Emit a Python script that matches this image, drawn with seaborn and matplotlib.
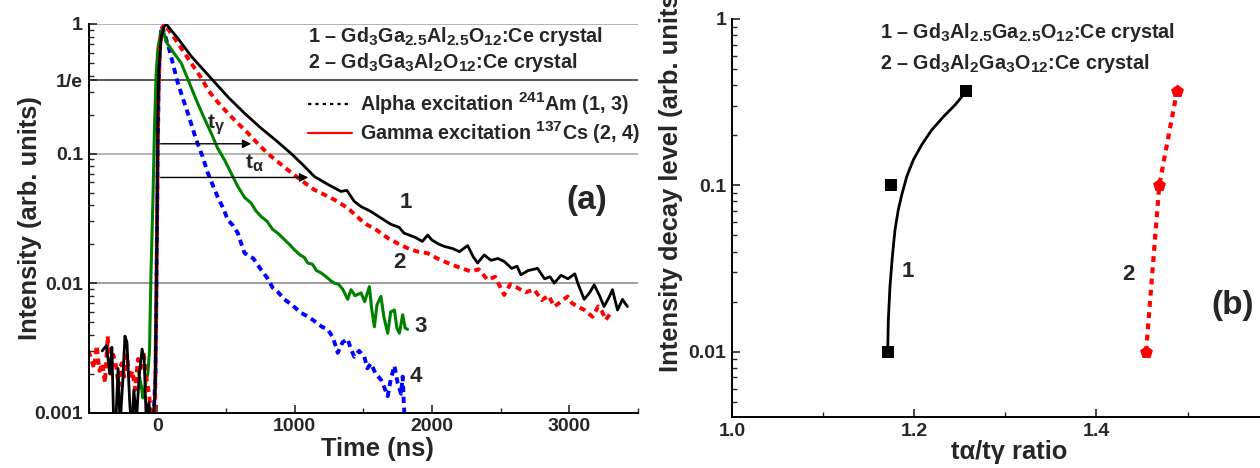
import numpy as np
import pandas as pd
import matplotlib
matplotlib.use("Agg")
import matplotlib.pyplot as plt
import matplotlib._mathtext as _mt
from matplotlib.lines import Line2D
from matplotlib.ticker import FixedLocator, NullFormatter, LogLocator
import seaborn as sns

# ---------------- data: panel (a) decay curves ----------------
t1 = [-400, -370, -345, -330, -315, -300, -285, -270, -250, -235, -220, -200, -185, -170, -150, -130, -110, -95, -80, -60, -45, -30,
      -15, -8, 0, 5, 12, 30, 50, 65,
      100, 150, 250, 405, 520, 635, 756, 870, 975, 1060, 1144, 1240, 1338, 1380, 1435, 1484, 1550, 1629, 1700, 1760, 1798,
      1880, 1930, 1969, 2000, 2050, 2090, 2150, 2200, 2260, 2300, 2332, 2380, 2430, 2480, 2526, 2580, 2620, 2647, 2700,
      2769, 2820, 2860, 2890, 2940, 2990, 3040, 3060, 3108, 3150, 3181, 3220, 3253, 3290, 3314, 3351, 3387, 3405, 3423]
i1 = [0.0030, 0.0033, 0.0020, 0.0032, 0.0007, 0.0009, 0.0022, 0.0008, 0.0018, 0.0039, 0.0035, 0.0012, 0.0007, 0.0015, 0.0009, 0.0020, 0.0031, 0.0026, 0.0009, 0.0012, 0.0008, 0.0008,
      0.0015, 0.006, 0.04, 0.2, 0.45, 0.8, 0.95, 1.0,
      0.9, 0.776, 0.56, 0.368, 0.27, 0.205, 0.157, 0.125, 0.1, 0.082, 0.0665, 0.058, 0.051, 0.052, 0.0427, 0.039, 0.036, 0.0318, 0.0285, 0.027, 0.0243,
      0.0225, 0.021, 0.0235, 0.0215, 0.020, 0.0192, 0.0185, 0.0175, 0.0195, 0.016, 0.0143, 0.0165, 0.0150, 0.0155, 0.0147, 0.0130, 0.0135, 0.0116, 0.0125,
      0.0130, 0.0108, 0.0112, 0.0100, 0.0115, 0.0108, 0.0118, 0.0101, 0.0075, 0.0085, 0.0097, 0.0080, 0.0066, 0.0078, 0.0089, 0.0062, 0.0075, 0.0070, 0.0066]

t2 = [-500, -480, -460, -440, -420, -400, -380, -360, -340, -320, -300, -280, -260, -240, -220, -200, -180, -160, -140, -120, -100, -80, -60, -45, -30,
      -15, -8, 0, 8, 20, 35, 50,
      102, 175, 247, 332, 369, 440, 514, 590, 660, 730, 805, 880, 950, 1050, 1144, 1220, 1290, 1387, 1450, 1508, 1590, 1678, 1760, 1847,
      1900, 1969, 2040, 2114, 2200, 2284, 2340, 2405, 2460, 2526, 2570, 2623, 2680, 2745, 2800, 2850, 2890, 2940, 2987, 3020, 3060,
      3110, 3169, 3210, 3240, 3265, 3302]
i2 = [0.0030, 0.0026, 0.0022, 0.0033, 0.0021, 0.0024, 0.0017, 0.0039, 0.0020, 0.0028, 0.0023, 0.0016, 0.0024, 0.0019, 0.0028, 0.0018, 0.0021, 0.0015, 0.0026, 0.0022, 0.0030, 0.0019, 0.0014, 0.0010, 0.0008,
      0.0012, 0.005, 0.04, 0.25, 0.65, 0.9, 1.0,
      0.85, 0.65, 0.50, 0.368, 0.31, 0.25, 0.205, 0.17, 0.144, 0.12, 0.10, 0.086, 0.0749, 0.062, 0.0525, 0.048, 0.044, 0.038, 0.033, 0.029, 0.026, 0.0223, 0.020, 0.0181,
      0.0175, 0.0170, 0.0155, 0.0143, 0.0132, 0.0123, 0.0128, 0.0106, 0.0112, 0.0081, 0.0098, 0.0092, 0.0085, 0.0089, 0.0074, 0.0080, 0.0066, 0.0072, 0.0079, 0.0070, 0.0066,
      0.0062, 0.0055, 0.0066, 0.0060, 0.0052, 0.0059]

t3 = [-140, -129, -115, -104, -92, -80, -68,
      -56, -45, -31, -20, -8, 5, 25, 41,
      65, 120, 175, 230, 284, 340, 393, 440, 490, 540, 587, 635, 684, 720, 756, 800, 840, 878, 920, 960, 999, 1040, 1070, 1096,
      1130, 1160, 1193, 1230, 1260, 1290, 1320, 1350, 1387, 1411, 1440, 1484, 1510, 1545, 1560, 1581, 1600, 1629, 1650, 1678,
      1700, 1727, 1745, 1763, 1787, 1805, 1823]
i3 = [0.0022, 0.0019, 0.0016, 0.0013, 0.0015, 0.0018, 0.0020,
      0.003, 0.012, 0.044, 0.15, 0.4, 0.65, 0.85, 0.93,
      0.73, 0.6, 0.50, 0.36, 0.26, 0.19, 0.144, 0.11, 0.0894, 0.07, 0.0557, 0.046, 0.0414, 0.036, 0.0327, 0.030, 0.026, 0.0243, 0.022, 0.020, 0.0181, 0.0165, 0.0158, 0.0143,
      0.0140, 0.0125, 0.0120, 0.0112, 0.0105, 0.0100, 0.0098, 0.0090, 0.0075, 0.0089, 0.0080, 0.0084, 0.0072, 0.0094, 0.0065, 0.0046, 0.0068, 0.0079, 0.0055, 0.0041,
      0.0060, 0.0062, 0.0045, 0.0041, 0.0057, 0.0045, 0.0044]

t4 = [-70, -55, -40, -25,
      -12, -4, 3, 10, 20, 32, 45,
      89, 150, 223, 284, 330, 369, 441, 480, 514, 550, 587, 635, 700, 756, 800, 841, 880, 926, 980, 1047, 1100, 1144, 1200, 1241,
      1280, 1314, 1350, 1387, 1410, 1435, 1470, 1508, 1530, 1556, 1590, 1629, 1650, 1678, 1700, 1727, 1750, 1775, 1787, 1795, 1800]
i4 = [0.0008, 0.0009, 0.0009, 0.0010,
      0.002, 0.012, 0.08, 0.3, 0.7, 0.97, 0.9,
      0.63, 0.35, 0.205, 0.128, 0.095, 0.0706, 0.046, 0.038, 0.0308, 0.028, 0.0243, 0.0171, 0.0155, 0.0127, 0.0110, 0.0092, 0.0085, 0.0075, 0.0068, 0.0059, 0.0055, 0.0051, 0.0046, 0.0044,
      0.0038, 0.0029, 0.0035, 0.0037, 0.0031, 0.0027, 0.0030, 0.0027, 0.0022, 0.0024, 0.0020, 0.0018, 0.0016, 0.00134, 0.0018, 0.0023, 0.0017, 0.0014, 0.0019, 0.0012, 0.00095]

ytick_vals_a = [0.001, 0.01, 0.1, 1 / np.e, 1.0]
ytick_labels_a = ["0.001", "0.01", "0.1", "1/e", "1"]
xtick_vals_a = [0, 1000, 2000, 3000]

# ---------------- data: panel (b) ----------------
ratio1 = [1.171, 1.175, 1.257]
level1 = [0.01, 0.1, 1 / np.e]
ratio2 = [1.4545, 1.469, 1.4885]
level2 = [0.01, 0.1, 1 / np.e]
fit1_ratio = [1.1709, 1.1716, 1.1734, 1.1760, 1.1789, 1.1825, 1.1863, 1.1918, 1.1990, 1.2082, 1.2192, 1.2320, 1.2448, 1.2539, 1.2565]
fit1_level = [0.0100, 0.0155, 0.0246, 0.0372, 0.0539, 0.0711, 0.0875, 0.1127, 0.142, 0.175, 0.215, 0.258, 0.304, 0.349, 0.362]
xtick_vals_b = [1.0, 1.2, 1.4]
xtick_labels_b = ["1.0", "1.2", "1.4"]

# ---------------- style ----------------
_mt.SHRINK_FACTOR = 0.78
sns.set_style("ticks")
plt.rcParams["font.family"] = ["Liberation Sans", "DejaVu Sans"]
plt.rcParams["font.weight"] = "bold"
plt.rcParams["axes.labelweight"] = "bold"
plt.rcParams["mathtext.fontset"] = "custom"
plt.rcParams["mathtext.rm"] = "Liberation Sans:bold"
plt.rcParams["mathtext.bf"] = "Liberation Sans:bold"
plt.rcParams["mathtext.it"] = "Liberation Sans:bold"
plt.rcParams["mathtext.default"] = "bf"

TICK_FS = 14
LAB_FS = 18.4
TXT_FS = 14.2

fig = plt.figure(figsize=(12.6, 4.68), dpi=100)
ax1 = fig.add_axes([88.5 / 1260, (468 - 412.7) / 468, 549.5 / 1260, 388.7 / 468])
ax2 = fig.add_axes([732 / 1260, (468 - 417) / 468, 546.6 / 1260, 398.1 / 468])

dotted = (0, (1.6, 1.2))

# ---- panel (a)
df1 = pd.DataFrame({"t": t1, "I": i1})
df2 = pd.DataFrame({"t": t2, "I": i2})
df3 = pd.DataFrame({"t": t3, "I": i3})
df4 = pd.DataFrame({"t": t4, "I": i4})

for v, c in [(1.0, "#a8a8a8"), (1 / np.e, "#3a3a3a"), (0.1, "#a8a8a8"), (0.01, "#8c8c8c")]:
    ax1.axhline(v, color=c, lw=1.2, zorder=0)

sns.lineplot(data=df4, x="t", y="I", ax=ax1, color="#0000ff", lw=2.8, linestyle=dotted, sort=False, estimator=None)
sns.lineplot(data=df3, x="t", y="I", ax=ax1, color="#008000", lw=2.2, sort=False, estimator=None)
sns.lineplot(data=df2, x="t", y="I", ax=ax1, color="#ff0000", lw=2.8, linestyle=dotted, sort=False, estimator=None)
sns.lineplot(data=df1, x="t", y="I", ax=ax1, color="#000000", lw=2.0, sort=False, estimator=None)

ax1.set_yscale("log")
ax1.set_xlim(-500, 3500)
ax1.set_ylim(0.001, 1.0)
ax1.set_yticks(ytick_vals_a)
ax1.set_yticklabels(ytick_labels_a)
ax1.yaxis.set_minor_locator(LogLocator(base=10, subs=np.arange(2, 10)))
ax1.yaxis.set_minor_formatter(NullFormatter())
ax1.set_xticks(xtick_vals_a)
ax1.xaxis.set_minor_locator(FixedLocator([-500, 500, 1500, 2500, 3500]))
ax1.set_xlabel("Time (ns)", fontsize=LAB_FS, fontweight="bold")
ax1.set_ylabel("Intensity (arb. units)", fontsize=LAB_FS, fontweight="bold")
ax1.xaxis.set_label_coords(0.525, -0.062)
ax1.yaxis.set_label_coords(-0.085, 0.5)

# arrows
ax1.annotate("", xy=(705, 0.119), xytext=(5, 0.119),
             arrowprops=dict(arrowstyle="-|>", color="black", lw=1.0, mutation_scale=13))
ax1.annotate("", xy=(1120, 0.0654), xytext=(5, 0.0654),
             arrowprops=dict(arrowstyle="-|>", color="black", lw=1.0, mutation_scale=13))
ax1.text(429, 0.166, r"t$_{\gamma}$", fontsize=15, ha="center", va="center")
ax1.text(705, 0.084, r"t$_{\alpha}$", fontsize=15, ha="center", va="center")

# curve numbers
for lab, tx, ty in [("1", 1813, 0.0417), ("2", 1762, 0.0144), ("3", 1915, 0.00461), ("4", 1885, 0.0019)]:
    ax1.text(tx, ty, lab, fontsize=16, ha="center", va="center")
ax1.text(0.907, 0.545, "(a)", transform=ax1.transAxes, fontsize=24, ha="center", va="center")

ax1.text(0.4, 0.969, r"1 – Gd$_3$Ga$_{2.5}$Al$_{2.5}$O$_{12}$:Ce crystal", transform=ax1.transAxes,
         fontsize=TXT_FS, ha="left", va="center")
ax1.text(0.4, 0.9, r"2 – Gd$_3$Ga$_3$Al$_2$O$_{12}$:Ce crystal", transform=ax1.transAxes,
         fontsize=TXT_FS, ha="left", va="center")
handles = [Line2D([], [], color="black", lw=1.6, linestyle=(0, (1.5, 1.8))),
           Line2D([], [], color="#ff0000", lw=1.6)]
labels = [r"Alpha excitation $^{241}$Am (1, 3)", r"Gamma excitation $^{137}$Cs (2, 4)"]
ax1.legend(handles, labels, loc="upper left", bbox_to_anchor=(0.4, 0.83), frameon=False,
           fontsize=TXT_FS, handlelength=2.2, handletextpad=0.4, borderpad=0, borderaxespad=0,
           labelspacing=0.12)

for s in ["top", "right"]:
    ax1.spines[s].set_visible(False)

# ---- panel (b)
dfb1 = pd.DataFrame({"r": ratio1, "lvl": level1})
dfb2 = pd.DataFrame({"r": ratio2, "lvl": level2})
dff = pd.DataFrame({"r": fit1_ratio, "lvl": fit1_level})

sns.lineplot(data=dff, x="r", y="lvl", ax=ax2, color="black", lw=2.0, sort=False, estimator=None)
sns.lineplot(data=dfb2, x="r", y="lvl", ax=ax2, color="#ff0000", lw=3.0, linestyle=(0, (1.4, 1.3)), sort=False, estimator=None)
sns.scatterplot(data=dfb1, x="r", y="lvl", ax=ax2, color="black", marker="s", s=70, edgecolor="black", linewidth=0, zorder=5)
sns.scatterplot(data=dfb2, x="r", y="lvl", ax=ax2, color="#ff0000", marker="p", s=95, edgecolor="#ff0000", linewidth=0, zorder=5)

ax2.set_yscale("log")
ax2.set_xlim(1.0, 1.6)
ax2.set_ylim(0.00405, 1.0)
ax2.set_yticks([0.01, 0.1, 1])
ax2.set_yticklabels(["0.01", "0.1", "1"])
ax2.yaxis.set_minor_locator(LogLocator(base=10, subs=np.arange(2, 10)))
ax2.yaxis.set_minor_formatter(NullFormatter())
ax2.set_xticks(xtick_vals_b)
ax2.set_xticklabels(xtick_labels_b)
ax2.xaxis.set_minor_locator(FixedLocator([1.1, 1.3, 1.5]))
ax2.set_xlabel("tα/tγ ratio", fontsize=LAB_FS, fontweight="bold")
ax2.set_ylabel("Intensity decay level (arb. units)", fontsize=LAB_FS, fontweight="bold")
ax2.xaxis.set_label_coords(0.508, -0.058)
ax2.yaxis.set_label_coords(-0.09, 0.6)

ax2.text(1.1625, 0.823, r"1 – Gd$_3$Al$_{2.5}$Ga$_{2.5}$O$_{12}$:Ce crystal", fontsize=TXT_FS, ha="left", va="center")
ax2.text(1.1625, 0.543, r"2 – Gd$_3$Al$_2$Ga$_3$O$_{12}$:Ce crystal", fontsize=TXT_FS, ha="left", va="center")
ax2.text(1.193, 0.0303, "1", fontsize=16, ha="center", va="center")
ax2.text(1.435, 0.0289, "2", fontsize=16, ha="center", va="center")
ax2.text(1.55, 0.019, "(b)", fontsize=24, ha="center", va="center")

for s in ["top", "right"]:
    ax2.spines[s].set_visible(False)

for ax in (ax1, ax2):
    ax.tick_params(axis="both", which="major", direction="in", length=6, width=1.2, labelsize=TICK_FS, pad=4)
    ax.tick_params(axis="both", which="minor", direction="in", length=3.5, width=1.0)
    for lbl in ax.get_xticklabels() + ax.get_yticklabels():
        lbl.set_fontweight("bold")
    for s in ["left", "bottom"]:
        ax.spines[s].set_linewidth(1.4)
        ax.spines[s].set_color("black")

fig.savefig("out.png", dpi=100)
